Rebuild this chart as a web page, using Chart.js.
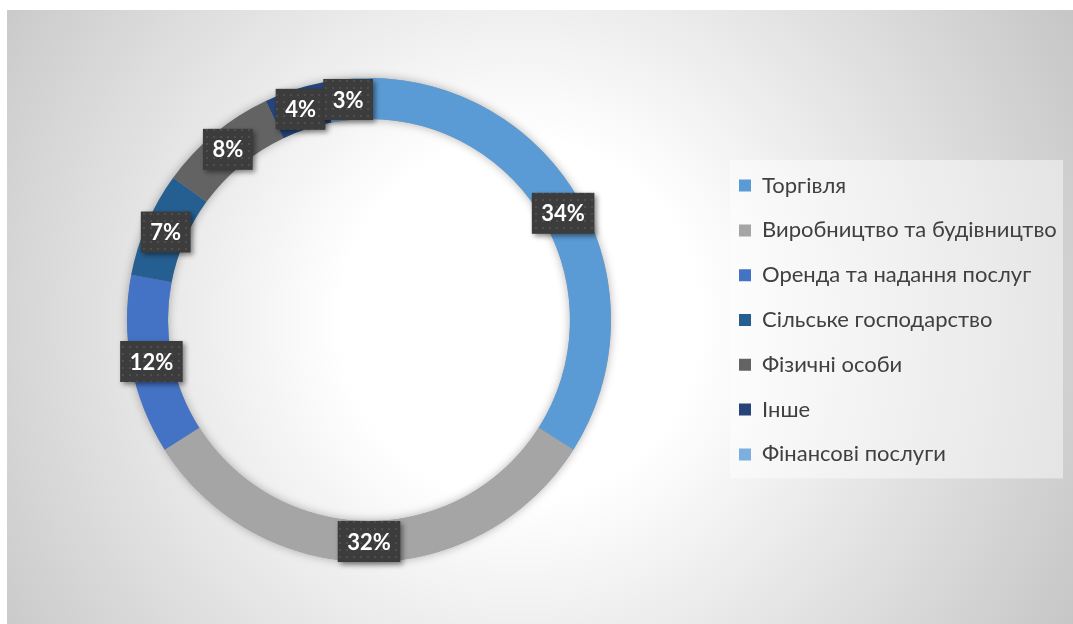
<!DOCTYPE html>
<html>
<head>
<meta charset="utf-8">
<script src="https://cdn.jsdelivr.net/npm/chart.js@4.4.1/dist/chart.umd.min.js"></script>
<style>
  html, body { margin: 0; padding: 0; background: #fff; }
  #wrap { width: 1073px; height: 624px; position: relative; }
</style>
</head>
<body>
<div id="wrap"><canvas id="c"></canvas></div>
<script>
// Structure of the portfolio by sector, percent
const categories = [
  'Торгівля',
  'Виробництво та будівництво',
  'Оренда та надання послуг',
  'Сільське господарство',
  'Фізичні особи',
  'Інше',
  'Фінансові послуги'
];
const shares = [34, 32, 12, 7, 8, 4, 3];
const sliceColors = ['#5B9BD5', '#A5A5A5', '#4472C4', '#255E91', '#636363', '#264478', '#7CAFDD'];

const W = 1073, H = 624;
const legendFont = { family: 'Lato', size: 22 };
const legendGap = 22.8;
const swatch = 12;

// Measure the widest legend entry so the legend column sits right of the ring
const mctx = document.createElement('canvas').getContext('2d');
mctx.font = legendFont.size + 'px ' + legendFont.family;
const maxText = Math.max(...categories.map(t => mctx.measureText(t).width));
const legendW = legendGap + swatch + legendFont.size / 2 + maxText + 10;
const legendLeft = 739 - legendGap;
const padRight = Math.max(0, W - legendLeft - legendW);
const ringCenterX = 369;
const padLeft = 2 * ringCenterX - legendLeft;

// Dotted dark fill for the value callouts
function dotPattern(ctx) {
  const t = document.createElement('canvas');
  t.width = 7; t.height = 7;
  const g = t.getContext('2d');
  g.fillStyle = '#3c3c3c';
  g.fillRect(0, 0, 7, 7);
  g.fillStyle = '#4e4e4e';
  g.fillRect(3, 3, 2, 2);
  return ctx.createPattern(t, 'repeat');
}

const backdrop = {
  id: 'backdrop',
  beforeDraw(chart) {
    const ctx = chart.ctx;
    ctx.save();
    ctx.fillStyle = '#ffffff';
    ctx.fillRect(0, 0, W, H);
    const g = ctx.createRadialGradient(520, 320, 0, 520, 320, 640);
    g.addColorStop(0, '#ffffff');
    g.addColorStop(0.28, '#ffffff');
    g.addColorStop(1, '#c5c5c5');
    ctx.fillStyle = g;
    ctx.fillRect(7, 10, W - 7, H - 10);
    // translucent panel behind the legend
    const hb = chart.legend && chart.legend.legendHitBoxes;
    if (hb && hb.length) {
      const first = hb[0], last = hb[hb.length - 1];
      const x0 = first.left - 9;
      const y0 = first.top + first.height / 2 - 25.6;
      const y1 = last.top + last.height / 2 + 24;
      ctx.fillStyle = 'rgba(255,255,255,0.45)';
      ctx.fillRect(x0, y0, W - 10 - x0, y1 - y0);
    }
    ctx.restore();
  }
};

const ringShadow = {
  id: 'ringShadow',
  beforeDatasetsDraw(chart) {
    const arc = chart.getDatasetMeta(0).data[0];
    if (!arc) return;
    const { x, y, outerRadius, innerRadius } = arc;
    const ctx = chart.ctx;
    ctx.save();
    ctx.beginPath();
    ctx.arc(x, y, outerRadius, 0, Math.PI * 2);
    ctx.arc(x, y, innerRadius, 0, Math.PI * 2, true);
    ctx.closePath();
    ctx.shadowColor = 'rgba(0,0,0,0.3)';
    ctx.shadowBlur = 10;
    ctx.fillStyle = '#999';
    ctx.fill();
    ctx.restore();
  }
};

const callouts = {
  id: 'callouts',
  afterDatasetsDraw(chart) {
    const ctx = chart.ctx;
    const meta = chart.getDatasetMeta(0);
    const pattern = dotPattern(ctx);
    ctx.save();
    ctx.font = 'bold 22px Lato';
    meta.data.forEach((arc, i) => {
      const p = arc.tooltipPosition();
      const txt = shares[i] + '%';
      const tw = ctx.measureText(txt).width;
      const bw = tw + 19, bh = 41;
      const x = p.x - bw / 2, y = p.y - bh / 2;
      ctx.save();
      ctx.shadowColor = 'rgba(0,0,0,0.45)';
      ctx.shadowBlur = 5;
      ctx.shadowOffsetX = 2.5;
      ctx.shadowOffsetY = 2.5;
      ctx.fillStyle = pattern;
      ctx.fillRect(x, y, bw, bh);
      ctx.restore();
      ctx.fillStyle = '#ffffff';
      ctx.textAlign = 'center';
      ctx.textBaseline = 'middle';
      ctx.fillText(txt, p.x, p.y + 1);
    });
    ctx.restore();
  }
};

new Chart(document.getElementById('c'), {
  type: 'doughnut',
  data: {
    labels: categories,
    datasets: [{
      data: shares,
      backgroundColor: sliceColors,
      borderWidth: 0
    }]
  },
  options: {
    responsive: true,
    maintainAspectRatio: false,
    animation: false,
    radius: 242,
    cutout: 201,
    layout: { padding: { left: padLeft, right: padRight, top: 78, bottom: 62 } },
    plugins: {
      tooltip: { enabled: false },
      legend: {
        position: 'right',
        align: 'center',
        labels: {
          font: legendFont,
          color: '#404040',
          boxWidth: swatch,
          boxHeight: swatch,
          padding: legendGap
        }
      }
    }
  },
  plugins: [backdrop, ringShadow, callouts]
});
</script>
</body>
</html>
